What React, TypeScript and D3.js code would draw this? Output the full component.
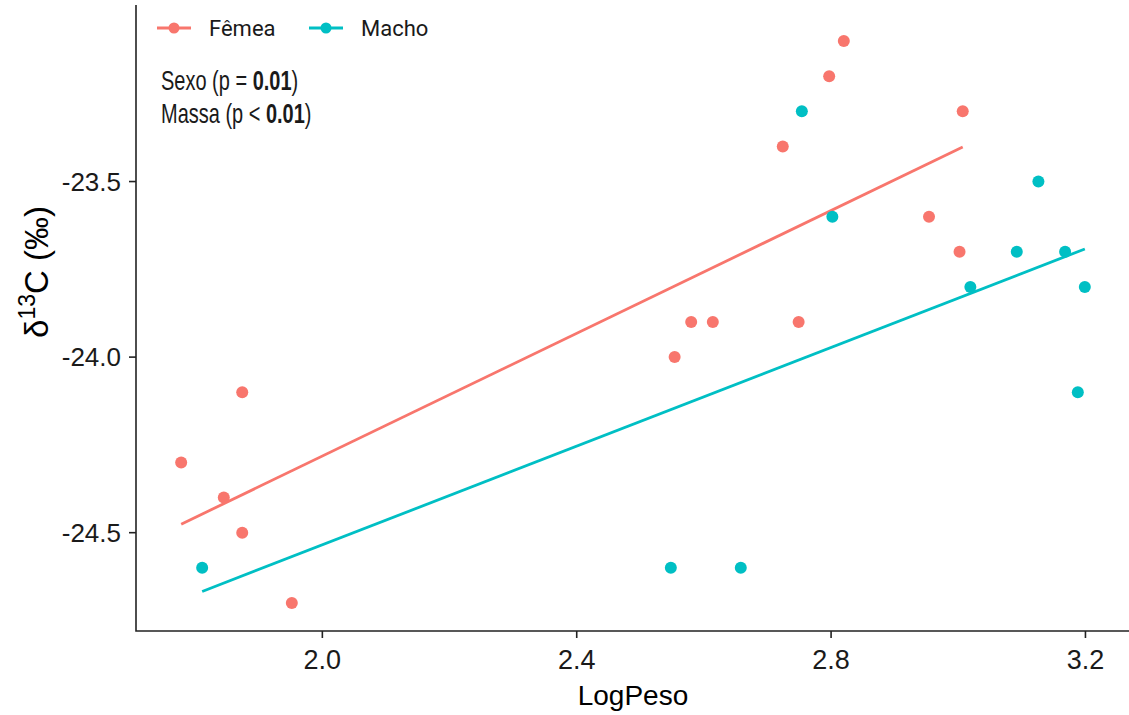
import React, { useEffect, useRef } from 'react';
import * as d3 from 'd3';

// values
const femeaLogPeso = [1.778, 1.845, 1.874, 1.874, 1.952, 2.554, 2.58, 2.614, 2.724, 2.749, 2.797, 2.82, 2.954, 3.002, 3.007];
const femeaD13C = [-24.3, -24.4, -24.1, -24.5, -24.7, -24.0, -23.9, -23.9, -23.4, -23.9, -23.2, -23.1, -23.6, -23.7, -23.3];
const machoLogPeso = [1.811, 2.548, 2.658, 2.754, 2.802, 3.019, 3.092, 3.126, 3.168, 3.199, 3.188];
const machoD13C = [-24.6, -24.6, -24.6, -23.3, -23.6, -23.8, -23.7, -23.5, -23.7, -23.8, -24.1];

const xTicks = [2.0, 2.4, 2.8, 3.2];
const yTicks = [-24.5, -24.0, -23.5];
const grupos = ['Fêmea', 'Macho'];
const cores = ['#F8766D', '#00BFC4'];

// least squares fit, like geom_smooth(method = "lm")
function ajuste(xs: number[], ys: number[]) {
  const mx = d3.mean(xs) as number;
  const my = d3.mean(ys) as number;
  let sxy = 0;
  let sxx = 0;
  xs.forEach((x, i) => {
    sxy += (x - mx) * (ys[i] - my);
    sxx += (x - mx) * (x - mx);
  });
  const b = sxy / sxx;
  const [x0, x1] = d3.extent(xs) as [number, number];
  return [
    { x: x0, y: my + b * (x0 - mx) },
    { x: x1, y: my + b * (x1 - mx) },
  ];
}

const Grafico = () => {
  const ref = useRef(null);

  useEffect(() => {
    document.body.style.margin = '0';
    const svg = d3.select(ref.current);
    svg.selectAll('*').remove();

    const left = 136, right = 1130, top = 13, bottom = 631;

    const allX = femeaLogPeso.concat(machoLogPeso);
    const allY = femeaD13C.concat(machoD13C);
    const [xa, xb] = d3.extent(allX) as [number, number];
    const [ya, yb] = d3.extent(allY) as [number, number];
    const ex = (xb - xa) * 0.05;
    const ey = (yb - ya) * 0.05;

    const x = d3.scaleLinear().domain([xa - ex, xb + ex]).range([left, right]);
    const y = d3.scaleLinear().domain([ya - ey, yb + ey]).range([bottom, top]);

    const series = [
      { xs: femeaLogPeso, ys: femeaD13C, cor: cores[0] },
      { xs: machoLogPeso, ys: machoD13C, cor: cores[1] },
    ];

    const linha = d3
      .line<{ x: number; y: number }>()
      .x((d) => x(d.x))
      .y((d) => y(d.y));

    // regression lines
    series.forEach((s) => {
      svg
        .append('path')
        .attr('d', linha(ajuste(s.xs, s.ys)))
        .attr('fill', 'none')
        .attr('stroke', s.cor)
        .attr('stroke-width', 2.8);
    });

    // points
    series.forEach((s) => {
      svg
        .append('g')
        .selectAll('circle')
        .data(s.xs)
        .enter()
        .append('circle')
        .attr('cx', (d) => x(d))
        .attr('cy', (d, i) => y(s.ys[i]))
        .attr('r', 6)
        .attr('fill', s.cor);
    });

    // axes
    svg
      .append('path')
      .attr('d', `M${left},5V${bottom}H${right}`)
      .attr('fill', 'none')
      .attr('stroke', '#222')
      .attr('stroke-width', 1.6);

    const tickFont = 'Liberation Sans, Arial, sans-serif';

    xTicks.forEach((t) => {
      svg
        .append('line')
        .attr('x1', x(t))
        .attr('x2', x(t))
        .attr('y1', bottom)
        .attr('y2', bottom + 7)
        .attr('stroke', '#222')
        .attr('stroke-width', 1.6);
      svg
        .append('text')
        .attr('x', x(t))
        .attr('y', 669)
        .attr('text-anchor', 'middle')
        .attr('font-family', tickFont)
        .attr('font-size', 27)
        .attr('fill', '#1a1a1a')
        .text(t.toFixed(1));
    });

    yTicks.forEach((t) => {
      svg
        .append('line')
        .attr('x1', left - 7)
        .attr('x2', left)
        .attr('y1', y(t))
        .attr('y2', y(t))
        .attr('stroke', '#222')
        .attr('stroke-width', 1.6);
      svg
        .append('text')
        .attr('x', 121)
        .attr('y', y(t))
        .attr('dy', '0.36em')
        .attr('text-anchor', 'end')
        .attr('font-family', tickFont)
        .attr('font-size', 26)
        .attr('fill', '#1a1a1a')
        .text(t.toFixed(1));
    });

    // axis titles
    svg
      .append('text')
      .attr('x', (left + right) / 2)
      .attr('y', 705)
      .attr('text-anchor', 'middle')
      .attr('font-family', tickFont)
      .attr('font-size', 28)
      .attr('fill', '#000')
      .text('LogPeso');

    const yt = svg
      .append('text')
      .attr('transform', 'translate(48,272) rotate(-90)')
      .attr('text-anchor', 'middle')
      .attr('font-family', tickFont)
      .attr('font-size', 33)
      .attr('fill', '#000');
    yt.append('tspan').text('δ');
    yt.append('tspan').attr('font-size', 23).attr('dy', -13).text('13');
    yt.append('tspan').attr('dy', 13).text('C (‰)');

    // legend
    const legX = [157, 309];
    grupos.forEach((g, i) => {
      const lg = svg.append('g').attr('transform', `translate(${legX[i]},28)`);
      lg.append('line')
        .attr('x1', 0)
        .attr('x2', 34)
        .attr('stroke', cores[i])
        .attr('stroke-width', 2.8);
      lg.append('circle').attr('cx', 17).attr('r', 5.5).attr('fill', cores[i]);
      lg.append('text')
        .attr('x', 52)
        .attr('y', 8)
        .attr('font-family', 'Roboto, Liberation Sans, sans-serif')
        .attr('font-size', 22)
        .attr('fill', '#1a1a1a')
        .text(g);
    });

    // annotation, condensed by a horizontal scale
    const notas = [
      { txt: 'Sexo (p = ', val: '0.01', y: 90 },
      { txt: 'Massa (p < ', val: '0.01', y: 123 },
    ];
    notas.forEach((n) => {
      const t = svg
        .append('g')
        .attr('transform', `translate(161,${n.y}) scale(0.74,1)`)
        .append('text')
        .attr('font-family', tickFont)
        .attr('font-size', 27)
        .attr('fill', '#1a1a1a');
      t.append('tspan').text(n.txt);
      t.append('tspan').attr('font-weight', 'bold').text(n.val);
      t.append('tspan').text(')');
    });
  }, []);

  return <svg width={1129} height={715} ref={ref} style={{ display: 'block' }} />;
};

export default function App() {
  return <Grafico />;
}
